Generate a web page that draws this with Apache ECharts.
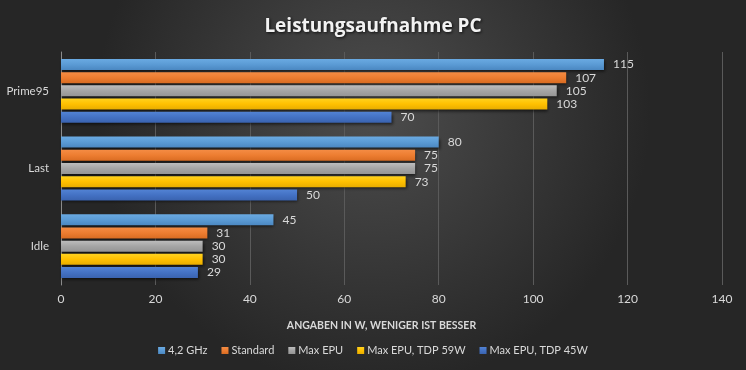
<!DOCTYPE html>
<html><head><meta charset="utf-8">
<script src="https://cdn.jsdelivr.net/npm/echarts@6/dist/echarts.min.js"></script>
<style>html,body{margin:0;padding:0;}#c{width:746px;height:370px;}</style>
</head><body><div id="c"></div>
<script>
const categories = ['Prime95', 'Last', 'Idle'];
const seriesNames = ['4,2 GHz', 'Standard', 'Max EPU', 'Max EPU, TDP 59W', 'Max EPU, TDP 45W'];
const s42GHz = [115, 80, 45];
const sStandard = [107, 75, 31];
const sMaxEPU = [105, 75, 30];
const sTDP59 = [103, 73, 30];
const sTDP45 = [70, 50, 29];
const xTicks = [0, 20, 40, 60, 80, 100, 120, 140];

const colors = ['#5B9BD5', '#ED7D31', '#A5A5A5', '#FFC000', '#4472C4'];
const tops = ['#6aaae2', '#f48c44', '#bdbdbd', '#ffd21f', '#5283d4'];
const bots = ['#4b88c2', '#d96c22', '#959595', '#e8ad00', '#3a63b0'];
const values = [s42GHz, sStandard, sMaxEPU, sTDP59, sTDP45];

const chart = echarts.init(document.getElementById('c'), null, {renderer: 'canvas'});
const font = "Lato, 'Open Sans', sans-serif";
chart.setOption({
  backgroundColor: {
    type: 'radial', x: 0.5, y: 0.3, r: 0.75,
    colorStops: [{offset: 0, color: '#4d4d4d'}, {offset: 1, color: '#262626'}]
  },
  textStyle: {fontFamily: font},
  title: {
    text: 'Leistungsaufnahme PC', left: 'center', top: 12,
    textStyle: {color: '#f2f2f2', fontSize: 19, fontWeight: 'bold', fontFamily: "'Open Sans', sans-serif",
      textShadowColor: 'rgba(0,0,0,0.8)', textShadowBlur: 3, textShadowOffsetX: 1, textShadowOffsetY: 1}
  },
  legend: {
    data: seriesNames, bottom: 9, left: 'center', itemWidth: 7, itemHeight: 7, itemGap: 14,
    icon: 'rect',
    textStyle: {color: '#d9d9d9', fontSize: 11, fontFamily: font, padding: [0, 0, 0, -2]}
  },
  grid: {left: 61, right: 24, top: 52, height: 233, containLabel: false},
  xAxis: {
    type: 'value', min: 0, max: 140, interval: 20,
    name: 'ANGABEN IN W, WENIGER IST BESSER', nameLocation: 'middle', nameGap: 35,
    nameTextStyle: {color: '#d9d9d9', fontSize: 10.5, fontWeight: 'bold', fontFamily: font, padding: [0, 20, 0, 0]},
    axisLine: {show: false}, axisTick: {show: false},
    axisLabel: {color: '#d9d9d9', fontSize: 12, margin: 8,
      formatter: v => xTicks.includes(v) ? String(v) : ''},
    splitLine: {show: true, lineStyle: {color: '#5a5a5a', width: 1}}
  },
  yAxis: {
    type: 'category', data: categories, inverse: true,
    axisLine: {show: true, lineStyle: {color: '#8c8c8c'}}, axisTick: {show: false},
    axisLabel: {color: '#d9d9d9', fontSize: 11.5, margin: 12}
  },
  series: seriesNames.map((n, i) => ({
    name: n, type: 'bar', data: values[i], barWidth: 11, barGap: '20%',
    color: colors[i],
    itemStyle: {
      color: {type: 'linear', x: 0, y: 0, x2: 0, y2: 1,
        colorStops: [{offset: 0, color: tops[i]}, {offset: 0.5, color: colors[i]}, {offset: 1, color: bots[i]}]},
      shadowColor: 'rgba(0,0,0,0.6)', shadowBlur: 3, shadowOffsetX: 1, shadowOffsetY: 2
    },
    label: {show: true, position: 'right', distance: 9, color: '#d9d9d9', fontSize: 12, fontFamily: font},
    emphasis: {disabled: true}
  })),
  color: colors,
  animation: false
});
</script>
</body></html>
